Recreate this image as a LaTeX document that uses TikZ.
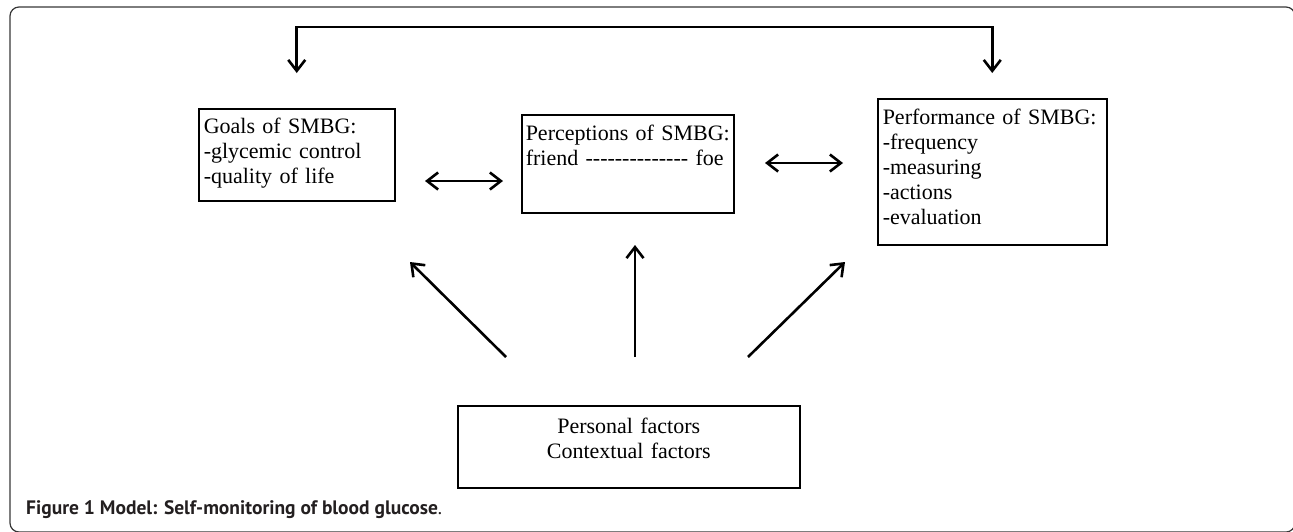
\documentclass[tikz,border=0pt]{standalone}
\usepackage{fontspec}
\setmainfont{Liberation Serif}
\newfontfamily\capfont{PT Sans}
\usepackage{tikz}
\usetikzlibrary{arrows.meta,calc}
\definecolor{frameg}{RGB}{55,55,55}
\definecolor{capg}{RGB}{35,31,32}
\newcommand{\hy}{\mbox{-}}

\begin{document}
\begin{tikzpicture}[x=1pt,y=-1pt,
  box/.style={draw,line width=1.5pt,anchor=north west,inner xsep=5pt,inner ysep=5pt,align=left,font=\fontsize{22}{25}\selectfont},
  arr/.style={-{Straight Barb[length=11pt,width=17pt]},line width=2.6pt},
  dbl/.style={{Straight Barb[length=11pt,width=17pt]}-{Straight Barb[length=11pt,width=17pt]},line width=2.6pt}]
\useasboundingbox (0,0) rectangle (1293,531);
\draw[frameg,line width=1.2pt,rounded corners=9pt] (10,7) rectangle (1295,532);
% boxes
\node[box,text width=186pt,text height=20pt,text depth=62pt] (goals) at (198,108) {Goals of SMBG:\\-glycemic control\\-quality of life};
\node[box,inner xsep=4pt,text width=204pt,text height=21pt,text depth=67pt] (perc) at (521,114) {\mbox{Perceptions of SMBG:}\\friend \hy\hy\hy\hy\hy\hy\hy\hy\hy\hy\hy\hy\hy\hy{} foe};
\node[box,text width=219pt,text height=21pt,text depth=115pt] (perf) at (877,98) {Performance of SMBG:\\-frequency\\-measuring\\-actions\\-evaluation};
\node[box,align=center,text width=332pt,text height=23pt,text depth=49pt] (fact) at (457,405) {Personal factors\\Contextual factors};
% free arrow ends
\coordinate (gt) at ($(goals.north)+(0,-35)$);
\coordinate (pt) at ($(perf.north)+(0,-25)$);
\coordinate (top) at (0,27);
\coordinate (ga) at (425,181); \coordinate (pa) at (503,181);
\coordinate (pb) at (765,163); \coordinate (fb) at (843,163);
\coordinate (f1) at (506,357); \coordinate (t1) at (410,262);
\coordinate (f2) at (635,357); \coordinate (t2) at (635,245);
\coordinate (f3) at (748,357); \coordinate (t3) at (845,262);
\draw[dbl] (gt) -- (gt|-top) -| (pt);
\draw[dbl] (ga) -- (pa);
\draw[dbl] (pb) -- (fb);
\draw[arr] (f1) -- (t1); \draw[arr] (f2) -- (t2); \draw[arr] (f3) -- (t3);
\node[anchor=base west,inner sep=0pt,text=capg] (cap) at (26,514) {\capfont\fontsize{19.5}{22}\selectfont\bfseries Figure 1 Model: Self-monitoring of blood glucose\mdseries.};
\end{tikzpicture}
\end{document}
